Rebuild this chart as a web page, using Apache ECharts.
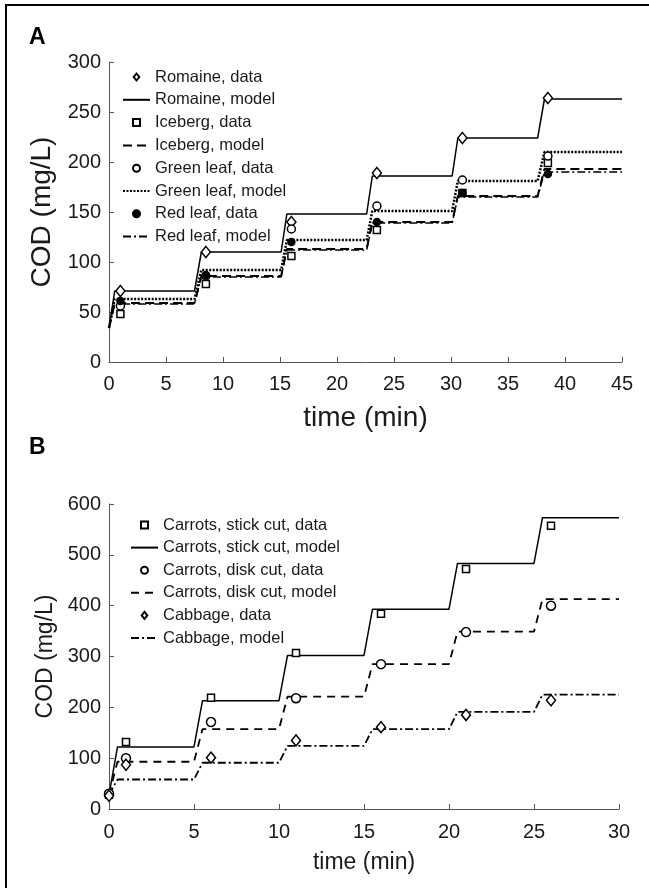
<!DOCTYPE html>
<html>
<head>
<meta charset="utf-8">
<script src="https://cdn.jsdelivr.net/npm/echarts@6/dist/echarts.min.js"></script>
<style>
  html, body { margin: 0; padding: 0; background: #fff; }
  #chart { width: 649px; height: 888px; }
</style>
</head>
<body>
<div id="chart"></div>
<script>
  // ---- panel A: leafy greens ----
  // knot times of the model step curves (min)
  var modelTimeA = [0, 0.5, 7.5, 8.1, 15.1, 15.6, 22.6, 23.1, 30.1, 30.6, 37.6, 38.2, 45];
  var romaineModel = [34, 71, 71, 110, 110, 148, 148, 186, 186, 224, 224, 263, 263];
  var icebergModel = [34, 59, 59, 86, 86, 113, 113, 140, 140, 166, 166, 193, 193];
  var greenModel = [34, 63, 63, 92, 92, 122, 122, 151, 151, 181, 181, 210, 210];
  var redModel = [34, 58, 58, 85, 85, 112, 112, 139, 139, 165, 165, 190, 190];

  var sampleTimeA = [1, 8.5, 16, 23.5, 31, 38.5];
  var romaineData = [71, 110, 140, 189, 224, 264];
  var icebergData = [48, 78, 106, 132, 169, 199];
  var greenData = [56, 86, 133, 156, 182, 206];
  var redData = [61, 87, 120, 140, 169, 188];

  // ---- panel B: carrots and cabbage ----
  var modelTimeB = [0, 0.5, 5, 5.5, 10, 10.5, 15, 15.5, 20, 20.5, 25, 25.5, 30];
  var stickModel = [28, 122, 122, 213, 213, 302, 302, 393, 393, 483, 483, 573, 573];
  var diskModel = [28, 93, 93, 157, 157, 221, 221, 285, 285, 349, 349, 413, 413];
  var cabbageModel = [28, 58, 58, 91, 91, 124, 124, 157, 157, 191, 191, 225, 225];

  var sampleTimeB = [0, 1, 6, 11, 16, 21, 26];
  var stickData = [28, 132, 219, 307, 384, 472, 557];
  var diskData = [30, 100, 171, 218, 285, 348, 400];
  var cabbageData = [26, 87, 101, 135, 161, 185, 214];

  var FONT = '"Liberation Sans", Arial, Helvetica, sans-serif';
  var INK = '#1a1a1a';
  var AXIS = '#555';
  // legend icons as paths so they keep their aspect
  var DIAMOND = 'path://M0,0L4,5L0,10L-4,5Z';
  var SQUARE = 'path://M0,0L10,0L10,10L0,10Z';

  function zip(ts, vs) {
    return ts.map(function (t, i) { return [t, vs[i]]; });
  }

  function modelLine(name, idx, ts, vs, type, width) {
    return {
      name: name, type: 'line', xAxisIndex: idx, yAxisIndex: idx,
      data: zip(ts, vs), symbol: 'none', silent: true, z: 2,
      itemStyle: { color: 'rgba(0,0,0,0)' },  // hides the dot in the legend icon
      lineStyle: { color: '#000', width: width, type: type }
    };
  }

  function dataPoints(name, idx, ts, vs, symbol, size, filled) {
    return {
      name: name, type: 'scatter', xAxisIndex: idx, yAxisIndex: idx,
      data: zip(ts, vs), symbol: symbol, symbolSize: size, silent: true, z: 3,
      itemStyle: { color: filled ? '#000' : '#fff', borderColor: '#000', borderWidth: 1.5, opacity: 1 }
    };
  }

  function xAx(idx, max, nameSize, gap, lblMargin) {
    return {
      type: 'value', gridIndex: idx, min: 0, max: max, interval: 5,
      name: 'time (min)', nameLocation: 'middle', nameGap: gap,
      nameTextStyle: { fontFamily: FONT, fontSize: nameSize, color: INK },
      axisLine: { show: true, lineStyle: { color: AXIS, width: 1 } },
      axisTick: { show: true, inside: true, length: 5, lineStyle: { color: AXIS } },
      axisLabel: { fontFamily: FONT, fontSize: 20, color: INK, margin: lblMargin },
      splitLine: { show: false }
    };
  }

  function yAx(idx, max, step, nameSize, gap) {
    return {
      type: 'value', gridIndex: idx, min: 0, max: max, interval: step,
      name: 'COD (mg/L)', nameLocation: 'middle', nameGap: gap,
      nameTextStyle: { fontFamily: FONT, fontSize: nameSize, color: INK },
      axisLine: { show: true, lineStyle: { color: AXIS, width: 1 } },
      axisTick: { show: true, inside: true, length: 5, lineStyle: { color: AXIS } },
      axisLabel: { fontFamily: FONT, fontSize: 20, color: INK, margin: 8 },
      splitLine: { show: false }
    };
  }

  function legendBox(left, top, gap, items) {
    return {
      orient: 'vertical', left: left, top: top, padding: 0,
      itemWidth: 27, itemHeight: 7, itemGap: gap, selectedMode: false,
      textStyle: { fontFamily: FONT, fontSize: 16.5, lineHeight: 18, color: INK },
      data: items
    };
  }

  var chart = echarts.init(document.getElementById('chart'), null, { renderer: 'canvas' });

  var option = {
    backgroundColor: '#fff',
    animation: false,
    grid: [
      { left: 109, top: 62, width: 513, height: 300 },
      { left: 109, top: 504, width: 510, height: 305 }
    ],
    xAxis: [xAx(0, 45, 28, 42, 12), xAx(1, 30, 23, 42, 13)],
    yAxis: [yAx(0, 300, 50, 28, 50), yAx(1, 600, 100, 23, 49)],
    legend: [
      legendBox(122, 68, 4.8, [
        { name: 'Romaine, data', icon: DIAMOND },
        'Romaine, model',
        { name: 'Iceberg, data', icon: SQUARE },
        'Iceberg, model',
        'Green leaf, data', 'Green leaf, model', 'Red leaf, data', 'Red leaf, model'
      ]),
      legendBox(130, 516, 4.6, [
        { name: 'Carrots, stick cut, data', icon: SQUARE },
        'Carrots, stick cut, model',
        'Carrots, disk cut, data', 'Carrots, disk cut, model',
        { name: 'Cabbage, data', icon: DIAMOND },
        'Cabbage, model'
      ])
    ],
    graphic: [
      { type: 'line', shape: { x1: 5, y1: 5, x2: 649, y2: 5 }, style: { stroke: '#000', lineWidth: 2 } },
      { type: 'line', shape: { x1: 6, y1: 5, x2: 6, y2: 888 }, style: { stroke: '#000', lineWidth: 2 } },
      { type: 'text', left: 29, top: 26, style: { text: 'A', font: 'bold 23px ' + FONT, fill: '#000' } },
      { type: 'text', left: 29, top: 436, style: { text: 'B', font: 'bold 23px ' + FONT, fill: '#000' } }
    ],
    series: [
      modelLine('Romaine, model', 0, modelTimeA, romaineModel, 'solid', 1.5),
      modelLine('Iceberg, model', 0, modelTimeA, icebergModel, [9, 5], 2),
      modelLine('Green leaf, model', 0, modelTimeA, greenModel, [2, 1.5], 2.5),
      modelLine('Red leaf, model', 0, modelTimeA, redModel, [8, 3, 2, 3], 1.5),
      dataPoints('Romaine, data', 0, sampleTimeA, romaineData, 'diamond', [9, 11], false),
      dataPoints('Iceberg, data', 0, sampleTimeA, icebergData, 'rect', 7, false),
      dataPoints('Green leaf, data', 0, sampleTimeA, greenData, 'circle', 8, false),
      dataPoints('Red leaf, data', 0, sampleTimeA, redData, 'circle', 7, true),

      modelLine('Carrots, stick cut, model', 1, modelTimeB, stickModel, 'solid', 1.5),
      modelLine('Carrots, disk cut, model', 1, modelTimeB, diskModel, [8, 6], 1.8),
      modelLine('Cabbage, model', 1, modelTimeB, cabbageModel, [8, 3, 2, 3], 1.8),
      dataPoints('Carrots, stick cut, data', 1, sampleTimeB, stickData, 'rect', 7, false),
      dataPoints('Carrots, disk cut, data', 1, sampleTimeB, diskData, 'circle', 9, false),
      dataPoints('Cabbage, data', 1, sampleTimeB, cabbageData, 'diamond', [9, 11], false)
    ]
  };

  chart.setOption(option);
</script>
</body>
</html>
